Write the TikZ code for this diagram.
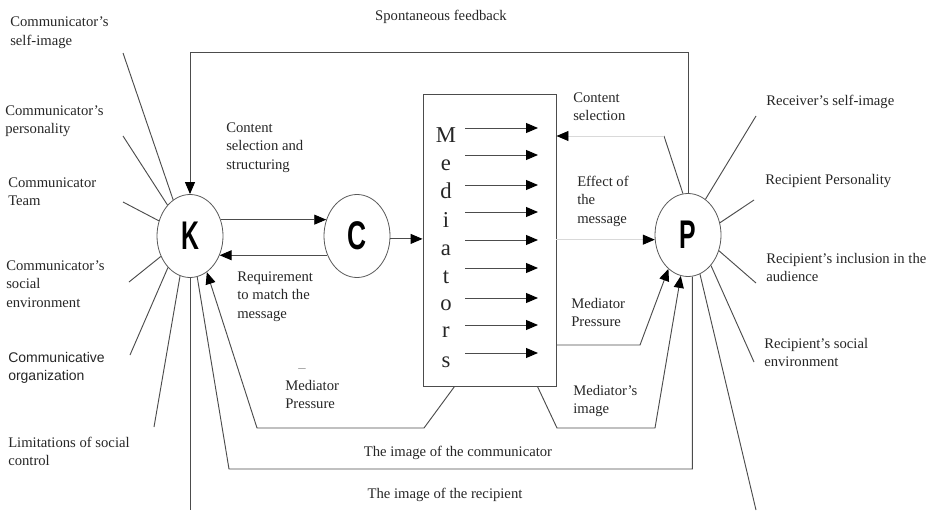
\documentclass[tikz,border=0pt]{standalone}
\usepackage{fontspec}
\setmainfont{Liberation Serif}
\setsansfont{Liberation Sans}
\usetikzlibrary{shapes.geometric,arrows.meta,calc}
% stacked lines whose first baseline is the node's base
\newcommand\linesof[1]{\begin{tabular}[t]{@{}l@{}}#1\end{tabular}}
\begin{document}
\begin{tikzpicture}[x=0.75pt,y=-0.75pt,
  txt/.style={font=\fontsize{11}{14}\selectfont, text=black!85, inner sep=0pt},
  lbl/.style={txt, anchor=base west},
  ctr/.style={txt, anchor=base},
  ln/.style={draw=black!70, line width=0.7pt},
  tip/.style={-{Triangle[length=9pt,width=7.5pt,color=black]}},
  arr/.style={ln, tip},
  faint/.style={draw=black!15, line width=0.7pt, tip},
  hub/.style={ellipse, draw=black!65, line width=0.6pt, minimum width=49.5pt,
    minimum height=62.25pt, inner sep=0pt,
    font=\sffamily\bfseries\fontsize{30}{30}\selectfont},
  letter/.style={font=\fontsize{17}{17}\selectfont, anchor=base, inner sep=0pt, text=black!85},
  boxed/.style={draw=black!70, line width=0.7pt, inner sep=0pt},
]
\useasboundingbox (0,0) rectangle (934,510);

% communicator, content, recipient
\node[hub] (K) at (190,236) {\scalebox{0.62}[1]{K}};
\node[hub] (C) at (357,236) {\scalebox{0.66}[1]{C}};
\node[hub] (P) at (688,235) {\scalebox{0.62}[1]{P}};

% mediators box
\node[boxed, minimum width=99.75pt, minimum height=219pt] (med) at (489.5,240) {};
\foreach \ch/\yb in {M/142,e/170,d/198,i/227,a/255,t/283,o/310,r/337,s/367}
  \node[letter] (L\ch) at (446,\yb) {\ch};
\foreach \y in {128,155,185,212,240,268,298,325,353}
  \draw[arr] (465,\y) -- (538,\y);

% K <-> C -> mediators
\draw[arr] (K.28) -- (C.152);
\draw[arr] (C.213) -- (K.327);
\draw[arr] (C.-5) -- (C.-5 -| med.west);

% spontaneous feedback loop
\coordinate (fbtop) at (0,52);
\draw[arr] (P.north) |- (K.north |- fbtop) -- (K.north);

% content selection
\coordinate (cs) at (664,136);
\draw[ln] (P.97) -- (cs);
\draw[faint] (cs) -- (cs -| med.east);

% effect of the message
\draw[faint] (P.188 -| med.east) -- (P.188);

% mediator pressure to recipient
\coordinate (mpr) at (640,345);
\draw[arr] (mpr -| med.east) -- (mpr) -- (P.240);

% mediator's image
\coordinate (mi1) at (557,428);
\coordinate (mi2) at (655,428);
\draw[arr] ($(med.south east)+(-19,0)$) -- (mi1) -- (mi2) -- (P.260);

% mediator pressure to communicator
\coordinate (mp1) at (424,428);
\coordinate (mp2) at (257,428);
\draw[arr] ($(med.south west)+(32,0)$) -- (mp1) -- (mp2) -- (K.295);

% image of the communicator / recipient
\coordinate (ic) at (229,469);
\draw[ln] (P.276) |- (ic) -- (K.280);
\coordinate (kdn) at (190,510);
\draw[ln] (K.south) -- (kdn);
\coordinate (pdn) at (756,510);
\draw[ln] (P.287) -- (pdn);

% influences on the communicator
\foreach \a/\x/\y [count=\n] in {115/123/53, 126/123/136, 154/123/202, 215/129/282, 235/130/355, 256/154/427}{
  \coordinate (kf\n) at (\x,\y);
  \draw[ln] (K.\a) -- (kf\n);
}
% influences on the recipient
\foreach \a/\x/\y [count=\n] in {64/756/116, 21.5/754/200, 333/756/283, 307/754/362}{
  \coordinate (pf\n) at (\x,\y);
  \draw[ln] (P.\a) -- (pf\n);
}

% labels, left side
\node[lbl] (t1) at (10,27) {\linesof{Communicator's\\self-image}};
\node[lbl] (t2) at (5,115) {\linesof{Communicator's\\personality}};
\node[lbl] (t3) at (8,187) {\linesof{Communicator\\Team}};
\node[lbl] (t4) at (6,270) {\linesof{Communicator's\\social\\environment}};
\node[lbl, font=\sffamily\fontsize{10.5}{13.5}\selectfont] (t5) at (8,362) {\linesof{Communicative\\organization}};
\node[lbl] (t6) at (8,447) {\linesof{Limitations of social\\control}};

% labels, middle
\node[lbl] (t7) at (226,132) {\linesof{Content\\selection and\\structuring}};
\node[lbl] (t8) at (237,281) {\linesof{Requirement\\to match the\\message}};
\node[lbl, text=black!45] (t9) at (298,372) {\textendash};
\node[lbl] (t10) at (285,390) {\linesof{Mediator\\Pressure}};
\node[ctr] (t11) at (441,21) {Spontaneous feedback};
\node[lbl] (t12) at (573,102) {\linesof{Content\\selection}};
\node[lbl] (t13) at (577,186) {\linesof{Effect of\\the\\message}};
\node[lbl] (t14) at (571,308) {\linesof{Mediator\\Pressure}};
\node[lbl] (t15) at (573,395) {\linesof{Mediator's\\image}};
\node[ctr] (t16) at (458,456) {The image of the communicator};
\node[ctr] (t17) at (445,498) {The image of the recipient};

% labels, right side
\node[lbl] (t18) at (766,105) {Receiver's self-image};
\node[lbl] (t19) at (765,184) {Recipient Personality};
\node[lbl] (t20) at (766,263) {\linesof{Recipient's inclusion in the\\audience}};
\node[lbl] (t21) at (764,348) {\linesof{Recipient's social\\environment}};
\end{tikzpicture}
\end{document}
